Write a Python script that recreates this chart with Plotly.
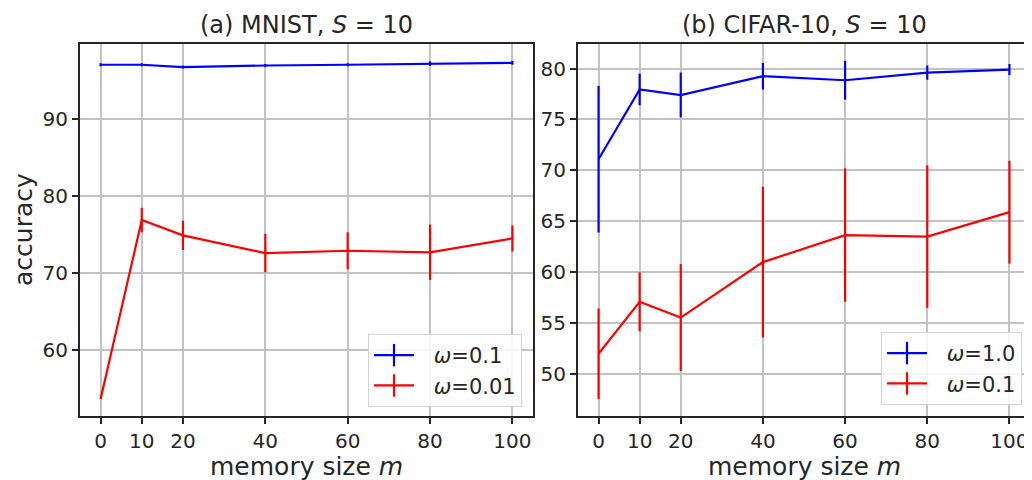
import plotly.graph_objects as go

memory = [0, 10, 20, 40, 60, 80, 100]
tick_labels = ["0", "10", "20", "40", "60", "80", "100"]

# (a) MNIST, S=10
mnist_w01 = [97.1, 97.1, 96.8, 97.0, 97.1, 97.25, 97.35]
mnist_w01_err = [0.2, 0.2, 0.2, 0.2, 0.2, 0.3, 0.25]
mnist_w001 = [53.6, 76.9, 74.9, 72.6, 72.9, 72.7, 74.5]
mnist_w001_err = [0.0, 1.6, 1.9, 2.5, 2.4, 3.6, 1.7]

# (b) CIFAR-10, S=10
cifar_w10 = [71.1, 77.95, 77.4, 79.25, 78.85, 79.6, 79.9]
cifar_w10_err = [7.2, 1.55, 2.2, 1.3, 1.9, 0.7, 0.55]
cifar_w01 = [52.0, 57.1, 55.55, 61.0, 63.65, 63.5, 65.9]
cifar_w01_err = [4.45, 2.9, 5.25, 7.4, 6.55, 7.0, 5.05]

BLUE = "#0000ff"
RED = "#ff0000"
TXT = "#262626"
FONT = "DejaVu Sans"

# the page body has an 8px margin, so the figure is drawn 8px smaller
OFF = 8
W, H = 1032 - OFF, 480 - OFF


def px(x):
    return (x - OFF) / W


def py(y):
    return 1 - (y - OFF) / H


fig = go.Figure()


def add_series(x, y, err, color, xa, ya):
    fig.add_trace(go.Scatter(
        x=x, y=y, mode="lines", xaxis=xa, yaxis=ya, showlegend=False,
        line=dict(color=color, width=2.2),
        error_y=dict(type="data", array=err, visible=True, color=color,
                     thickness=2.2, width=0),
        hoverinfo="skip"))


def add_legend(name, color, legend):
    fig.add_trace(go.Scatter(
        x=[None], y=[None], mode="lines+markers", name=name, legend=legend,
        line=dict(color=color, width=2.2),
        marker=dict(symbol="line-ns-open", size=18, color=color,
                    line=dict(color=color, width=2.2))))


GAP = "\u2002\u2009"
add_legend(GAP + "<i>ω</i>=0.1", BLUE, "legend")
add_legend(GAP + "<i>ω</i>=0.01", RED, "legend")
add_legend(GAP + "<i>ω</i>=1.0", BLUE, "legend2")
add_legend(GAP + "<i>ω</i>=0.1", RED, "legend2")

add_series(memory, mnist_w01, mnist_w01_err, BLUE, "x", "y")
add_series(memory, mnist_w001, mnist_w001_err, RED, "x", "y")
add_series(memory, cifar_w10, cifar_w10_err, BLUE, "x2", "y2")
add_series(memory, cifar_w01, cifar_w01_err, RED, "x2", "y2")


def auto_range(series):
    lo = min(m - e for ys, es in series for m, e in zip(ys, es))
    hi = max(m + e for ys, es in series for m, e in zip(ys, es))
    pad = (hi - lo) * 0.05
    return [lo - pad, hi + pad]


xpad = (max(memory) - min(memory)) * 0.05
xrange = [min(memory) - xpad, max(memory) + xpad]

axis_common = dict(
    showline=True, mirror=True, linecolor=TXT, linewidth=2,
    showgrid=True, gridcolor="#c3c3c3", gridwidth=1.8,
    ticks="outside", ticklen=6, tickwidth=1.5, tickcolor=TXT,
    tickfont=dict(family=FONT, size=20, color=TXT),
    zeroline=False,
)

L1, R1, L2, R2 = 80, 533, 578, 1030
TOP, BOT = 44, 416

legend_common = dict(
    xanchor="right", yanchor="bottom",
    bgcolor="rgba(255,255,255,0.85)", bordercolor="#d4d4d4", borderwidth=1,
    font=dict(family=FONT, size=21, color=TXT),
    itemwidth=40, tracegroupgap=0,
)

fig.update_layout(
    width=W, height=H,
    margin=dict(l=0, r=0, t=0, b=0),
    plot_bgcolor="white", paper_bgcolor="white",
    font=dict(family=FONT, color=TXT),
    xaxis=dict(axis_common, domain=[px(L1), px(R1)], range=xrange,
               tickvals=memory, ticktext=tick_labels, anchor="y"),
    yaxis=dict(axis_common, domain=[py(BOT), py(TOP)],
               range=auto_range([(mnist_w01, mnist_w01_err), (mnist_w001, mnist_w001_err)]),
               tickvals=[60, 70, 80, 90], anchor="x"),
    xaxis2=dict(axis_common, domain=[px(L2), px(R2)], range=xrange,
                tickvals=memory, ticktext=tick_labels, anchor="y2"),
    yaxis2=dict(axis_common, domain=[py(BOT), py(TOP)],
                range=auto_range([(cifar_w10, cifar_w10_err), (cifar_w01, cifar_w01_err)]),
                tickvals=[50, 55, 60, 65, 70, 75, 80], anchor="x2"),
    legend=dict(legend_common, x=px(522), y=py(407)),
    legend2=dict(legend_common, x=px(1022), y=py(405)),
    annotations=[
        dict(text="(a) MNIST, <i>S</i> = 10", x=px((L1 + R1) / 2), y=py(25),
             xref="paper", yref="paper", showarrow=False, xanchor="center", yanchor="middle",
             font=dict(family=FONT, size=24, color=TXT)),
        dict(text="(b) CIFAR-10, <i>S</i> = 10", x=px((L2 + R2) / 2), y=py(25),
             xref="paper", yref="paper", showarrow=False, xanchor="center", yanchor="middle",
             font=dict(family=FONT, size=24, color=TXT)),
        dict(text="memory size <i>m</i>", x=px((L1 + R1) / 2), y=py(466),
             xref="paper", yref="paper", showarrow=False, xanchor="center", yanchor="middle",
             font=dict(family=FONT, size=25, color=TXT)),
        dict(text="memory size <i>m</i>", x=px((L2 + R2) / 2), y=py(466),
             xref="paper", yref="paper", showarrow=False, xanchor="center", yanchor="middle",
             font=dict(family=FONT, size=25, color=TXT)),
        dict(text="accuracy", x=px(23), y=py((TOP + BOT) / 2), textangle=-90,
             xref="paper", yref="paper", showarrow=False, xanchor="center", yanchor="middle",
             font=dict(family=FONT, size=25, color=TXT)),
    ],
)

fig.write_html("out.html")
